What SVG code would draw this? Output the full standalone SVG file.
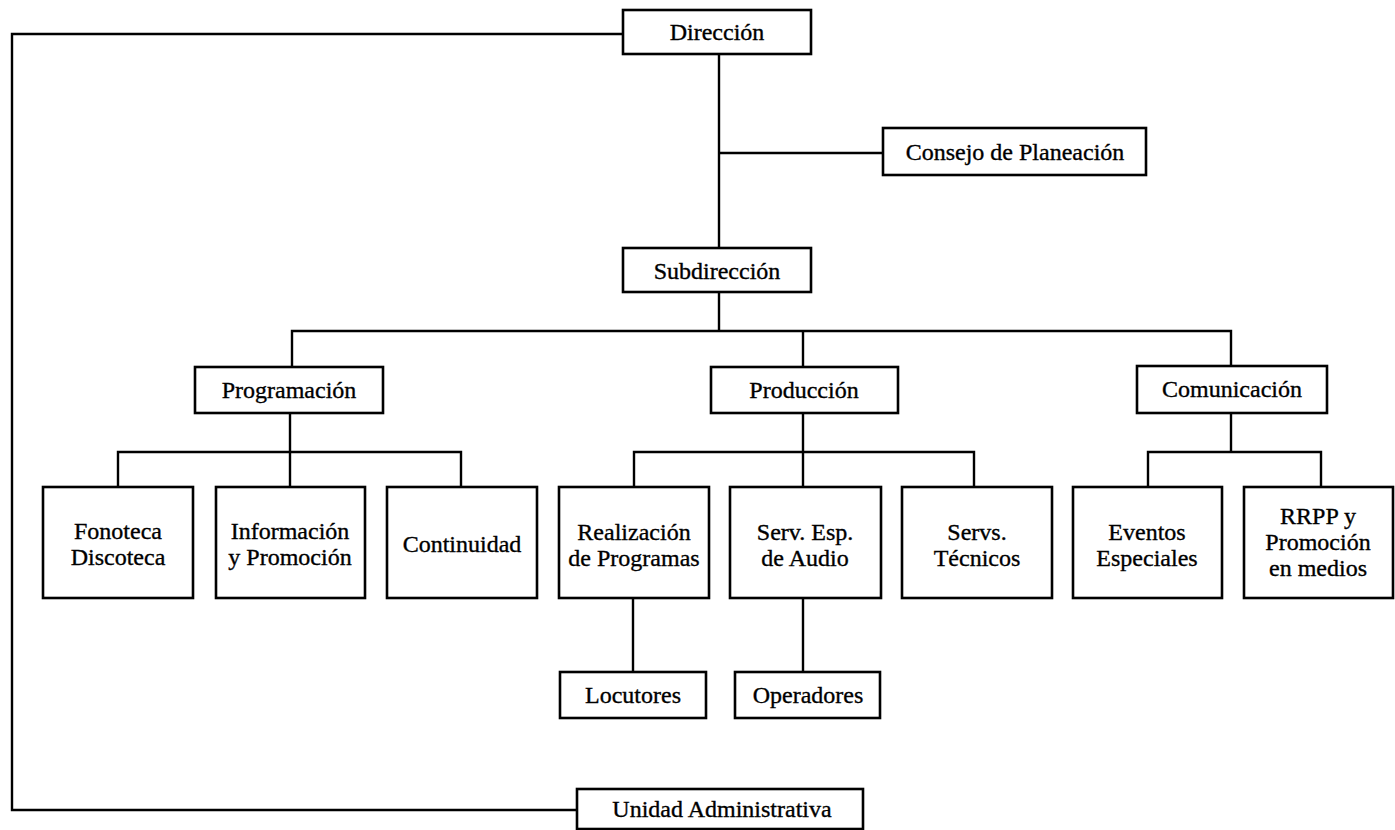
<svg xmlns="http://www.w3.org/2000/svg" width="1395" height="830" viewBox="0 0 1395 830">
<style>
.box{fill:#fff;stroke:#000;stroke-width:2.6}
.ln{fill:none;stroke:#000;stroke-width:2.4}
text{font-family:"Liberation Serif","Times New Roman",serif;font-size:24px;fill:#000;stroke:#000;stroke-width:0.35;text-anchor:middle}
</style>
<rect width="1395" height="830" fill="#fff"/>
<g id="connectors">
<path class="ln" d="M623,34 H12 V810 H577"/>
<path class="ln" d="M719,54 V248"/>
<path class="ln" d="M719,153 H883"/>
<path class="ln" d="M719,292 V331"/>
<path class="ln" d="M292,367 V331 H1231 V366"/>
<path class="ln" d="M803,331 V367"/>
<path class="ln" d="M290,413 V487"/>
<path class="ln" d="M118,487 V452 H461 V487"/>
<path class="ln" d="M803,413 V487"/>
<path class="ln" d="M634,487 V452 H974 V487"/>
<path class="ln" d="M1231,413 V452"/>
<path class="ln" d="M1148,487 V452 H1321 V487"/>
<path class="ln" d="M633,598 V672"/>
<path class="ln" d="M803,598 V672"/>
</g>
<g id="direccion"><rect class="box" x="623" y="10" width="188" height="44"/><text x="717" y="40">Dirección</text></g>
<g id="consejo"><rect class="box" x="883" y="128" width="263" height="47"/><text x="1015" y="160">Consejo de Planeación</text></g>
<g id="subdireccion"><rect class="box" x="623" y="248" width="188" height="44"/><text x="717" y="279">Subdirección</text></g>
<g id="programacion"><rect class="box" x="195" y="367" width="188" height="46"/><text x="289" y="398">Programación</text></g>
<g id="produccion"><rect class="box" x="711" y="367" width="187" height="46"/><text x="804" y="398">Producción</text></g>
<g id="comunicacion"><rect class="box" x="1137" y="366" width="190" height="47"/><text x="1232" y="397">Comunicación</text></g>
<g id="fonoteca"><rect class="box" x="43" y="487" width="150" height="111"/><text x="118" y="539">Fonoteca</text><text x="118" y="565">Discoteca</text></g>
<g id="informacion"><rect class="box" x="216" y="487" width="149" height="111"/><text x="290" y="539">Información</text><text x="290" y="565">y Promoción</text></g>
<g id="continuidad"><rect class="box" x="387" y="487" width="150" height="111"/><text x="462" y="552">Continuidad</text></g>
<g id="realizacion"><rect class="box" x="559" y="487" width="150" height="111"/><text x="634" y="540">Realización</text><text x="634" y="566">de Programas</text></g>
<g id="servesp"><rect class="box" x="730" y="487" width="151" height="111"/><text x="805" y="540">Serv. Esp.</text><text x="805" y="566">de Audio</text></g>
<g id="servtec"><rect class="box" x="902" y="487" width="150" height="111"/><text x="977" y="540">Servs.</text><text x="977" y="566">Técnicos</text></g>
<g id="eventos"><rect class="box" x="1073" y="487" width="149" height="111"/><text x="1147" y="540">Eventos</text><text x="1147" y="566">Especiales</text></g>
<g id="rrpp"><rect class="box" x="1244" y="487" width="149" height="111"/><text x="1318" y="524">RRPP y</text><text x="1318" y="550">Promoción</text><text x="1318" y="576">en medios</text></g>
<g id="locutores"><rect class="box" x="560" y="672" width="146" height="46"/><text x="633" y="703">Locutores</text></g>
<g id="operadores"><rect class="box" x="735" y="672" width="145" height="46"/><text x="808" y="703">Operadores</text></g>
<g id="unidad"><rect class="box" x="577" y="789" width="286" height="40"/><text x="722" y="817">Unidad Administrativa</text></g>
</svg>
